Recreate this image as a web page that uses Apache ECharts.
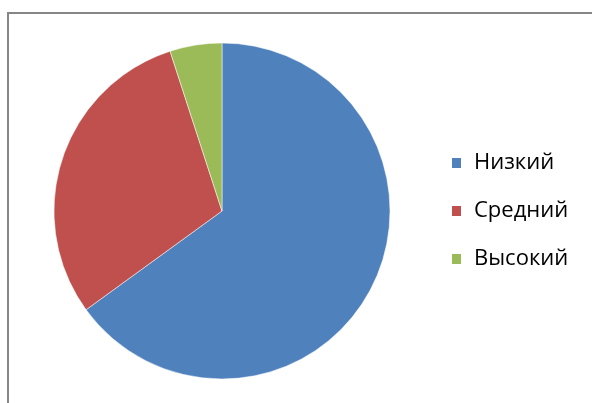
<!DOCTYPE html>
<html>
<head>
<meta charset="utf-8">
<script src="https://cdn.jsdelivr.net/npm/echarts@6/dist/echarts.min.js"></script>
<style>
html, body { margin: 0; padding: 0; background: #fff; }
#main { width: 592px; height: 403px; }
</style>
</head>
<body>
<div id="main"></div>
<script>
var categories = ['Низкий', 'Средний', 'Высокий'];
var values = [65, 30, 5];
var colors = ['#4f81bd', '#c0504d', '#9bbb59'];

var chartDom = document.getElementById('main');
var myChart = echarts.init(chartDom);
var option;

var data = categories.map(function (name, i) {
    return {value: values[i], name: name, itemStyle: {color: colors[i]}};
});

option = {
    animation: false,
    graphic: [
        {
            type: 'polyline',
            shape: {points: [[8, 403], [8, 13], [592, 13]]},
            style: {stroke: '#868686', lineWidth: 2, fill: null}
        }
    ],
    legend: {
        orient: 'vertical',
        left: 450,
        top: 152,
        padding: 0,
        itemWidth: 11,
        itemHeight: 12,
        itemGap: 26,
        icon: 'rect',
        textStyle: {
            fontFamily: 'Open Sans',
            fontSize: 22,
            lineHeight: 22,
            color: '#000',
            padding: [0, 0, 0, 7]
        },
        data: categories
    },
    series: [
        {
            type: 'pie',
            center: [222, 211],
            radius: 168,
            startAngle: 90,
            clockwise: true,
            label: {show: false},
            labelLine: {show: false},
            itemStyle: {borderColor: '#fff', borderWidth: 0.5},
            emphasis: {disabled: true},
            data: data
        }
    ]
};

option && myChart.setOption(option);
</script>
</body>
</html>
